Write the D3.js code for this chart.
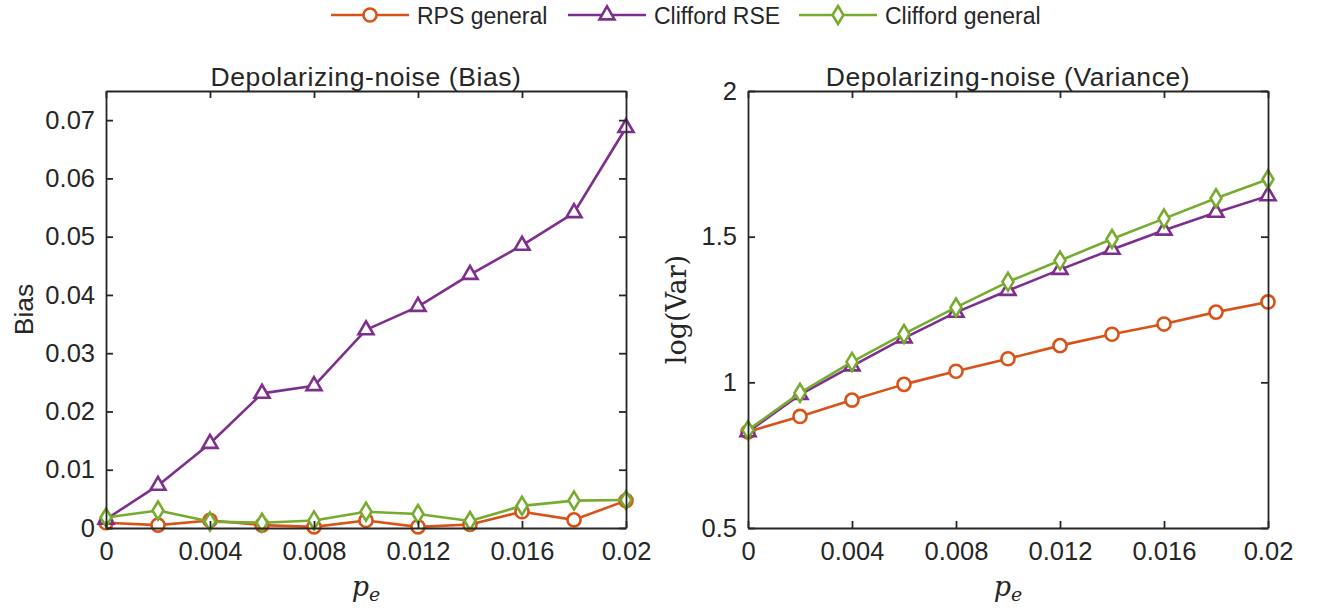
<!DOCTYPE html>
<html>
<head>
<meta charset="utf-8">
<script src="https://cdn.jsdelivr.net/npm/d3@7"></script>
<style>
  body { margin: 0; background: #fff; }
  svg text { font-family: "Liberation Sans", Arial, Helvetica, sans-serif; fill: #262626; }
  svg text.serif { font-family: "DejaVu Serif", "Liberation Serif", serif; }
</style>
</head>
<body>
<svg id="chart" width="1323" height="610"></svg>
<script>
// Error probability values on the x axis
const pe = [0, 0.002, 0.004, 0.006, 0.008, 0.010, 0.012, 0.014, 0.016, 0.018, 0.020];

// Bias under depolarizing noise
const biasRPS      = [0.0009, 0.0005, 0.0013, 0.0005, 0.0002, 0.0013, 0.0002, 0.0006, 0.0028, 0.0014, 0.0047];
const biasRSE      = [0.0015, 0.0073, 0.0145, 0.0231, 0.0244, 0.0340, 0.0380, 0.0435, 0.0485, 0.0541, 0.0687];
const biasCliffGen = [0.0018, 0.0030, 0.0011, 0.0009, 0.0013, 0.0028, 0.0024, 0.0012, 0.0038, 0.0047, 0.0048];

// log(Var) under depolarizing noise
const varRPS      = [0.830, 0.883, 0.939, 0.993, 1.038, 1.081, 1.126, 1.165, 1.200, 1.241, 1.276];
const varRSE      = [0.830, 0.958, 1.056, 1.152, 1.240, 1.315, 1.387, 1.456, 1.522, 1.583, 1.640];
const varCliffGen = [0.836, 0.964, 1.070, 1.166, 1.257, 1.345, 1.418, 1.492, 1.562, 1.632, 1.697];

const xTicks = [0, 0.004, 0.008, 0.012, 0.016, 0.02];
const xTickLabels = ["0", "0.004", "0.008", "0.012", "0.016", "0.02"];
const biasTicks = [0, 0.01, 0.02, 0.03, 0.04, 0.05, 0.06, 0.07];
const varTicks = [0.5, 1, 1.5, 2];

const seriesNames = ["RPS general", "Clifford RSE", "Clifford general"];
const colors = ["#D95319", "#7E2F8E", "#77AC30"];
const markers = ["circle", "triangle", "diamond"];

const svg = d3.select("#chart");
const axisColor = "#262626";

function markerPath(type) {
  if (type === "circle") return d3.symbol().type(d3.symbolCircle).size(135)();
  if (type === "triangle") {
    // upward triangle, centroid at origin
    const w = 7.5, h = 13;
    return `M0,${-h * 2 / 3}L${w},${h / 3}L${-w},${h / 3}Z`;
  }
  // tall diamond
  const w = 5.5, h = 9;
  return `M0,${-h}L${w},0L0,${h}L${-w},0Z`;
}

function drawPanel(opts) {
  const { left, top, width, height, yDomain, yTicks, yFormat, title, data } = opts;
  const g = svg.append("g").attr("transform", `translate(${left},${top})`);
  const x = d3.scaleLinear().domain([0, 0.02]).range([0, width]);
  const y = d3.scaleLinear().domain(yDomain).range([height, 0]);

  // series lines and markers
  data.forEach((vals, i) => {
    const pts = pe.map((p, k) => [p, vals[k]]);
    g.append("path")
      .datum(pts)
      .attr("fill", "none")
      .attr("stroke", colors[i])
      .attr("stroke-width", 2.6)
      .attr("stroke-linejoin", "round")
      .attr("d", d3.line().x(d => x(d[0])).y(d => y(d[1])));
    g.selectAll(null)
      .data(pts)
      .enter()
      .append("path")
      .attr("transform", d => `translate(${x(d[0])},${y(d[1])})`)
      .attr("d", markerPath(markers[i]))
      .attr("fill", "#fff")
      .attr("stroke", colors[i])
      .attr("stroke-width", 2.6);
  });

  // box axes with inward ticks on all sides
  const tickLen = 7;
  const bottom = d3.axisBottom(x).tickValues(xTicks).tickFormat((d, i) => xTickLabels[i]).tickSizeInner(-tickLen).tickSizeOuter(0).tickPadding(14);
  const topAx = d3.axisTop(x).tickValues(xTicks).tickFormat("").tickSizeInner(-tickLen).tickSizeOuter(0);
  const leftAx = d3.axisLeft(y).tickValues(yTicks).tickFormat(yFormat).tickSizeInner(-tickLen).tickSizeOuter(0).tickPadding(11);
  const rightAx = d3.axisRight(y).tickValues(yTicks).tickFormat("").tickSizeInner(-tickLen).tickSizeOuter(0);

  const axes = [
    g.append("g").attr("transform", `translate(0,${height})`).call(bottom),
    g.append("g").call(topAx),
    g.append("g").call(leftAx),
    g.append("g").attr("transform", `translate(${width},0)`).call(rightAx)
  ];
  axes.forEach(a => {
    a.select(".domain").attr("stroke", axisColor).attr("stroke-width", 1.8);
    a.selectAll(".tick line").attr("stroke", axisColor).attr("stroke-width", 1.8);
    a.selectAll(".tick text")
      .attr("font-size", 25.5)
      .attr("fill", axisColor);
  });

  // title
  g.append("text")
    .attr("x", width / 2)
    .attr("y", -5)
    .attr("text-anchor", "middle")
    .attr("font-size", 26.5)
    .attr("letter-spacing", 0.6)
    .text(title);

  // x label p_e
  const xl = g.append("text")
    .attr("class", "serif")
    .attr("x", width / 2)
    .attr("y", height + 68)
    .attr("text-anchor", "middle")
    .attr("font-style", "italic")
    .attr("font-size", 27);
  xl.append("tspan").text("p");
  xl.append("tspan").attr("font-size", 19).attr("dy", 5).text("e");

  return g;
}

const panelTop = 91, panelH = 437, panelW = 520;

const g1 = drawPanel({
  left: 106, top: panelTop, width: panelW, height: panelH,
  yDomain: [0, 0.075], yTicks: biasTicks,
  yFormat: d => d === 0 ? "0" : d3.format(".2f")(d),
  title: "Depolarizing-noise (Bias)",
  data: [biasRPS, biasRSE, biasCliffGen]
});
g1.append("text")
  .attr("transform", `translate(-73,${panelH / 2}) rotate(-90)`)
  .attr("text-anchor", "middle")
  .attr("font-size", 26.5)
  .text("Bias");

const g2 = drawPanel({
  left: 748, top: panelTop, width: panelW, height: panelH,
  yDomain: [0.5, 2], yTicks: varTicks,
  yFormat: d => String(d),
  title: "Depolarizing-noise (Variance)",
  data: [varRPS, varRSE, varCliffGen]
});
g2.append("text")
  .attr("class", "serif")
  .attr("transform", `translate(-62,${panelH / 2}) rotate(-90)`)
  .attr("text-anchor", "middle")
  .attr("font-size", 27)
  .text("log(Var)");

// legend across the top
const legendX = [331, 568, 799];
const sampleLen = 78;
const legend = svg.append("g").attr("transform", "translate(0,15)");
seriesNames.forEach((name, i) => {
  const lg = legend.append("g").attr("transform", `translate(${legendX[i]},0)`);
  lg.append("line").attr("x1", 0).attr("x2", sampleLen).attr("y1", 0).attr("y2", 0)
    .attr("stroke", colors[i]).attr("stroke-width", 2.6);
  lg.append("path").attr("transform", `translate(${sampleLen / 2},0)`)
    .attr("d", markerPath(markers[i]))
    .attr("fill", "#fff").attr("stroke", colors[i]).attr("stroke-width", 2.6);
  lg.append("text").attr("x", sampleLen + 8).attr("y", 8.5).attr("font-size", 23).text(name);
});
</script>
</body>
</html>
